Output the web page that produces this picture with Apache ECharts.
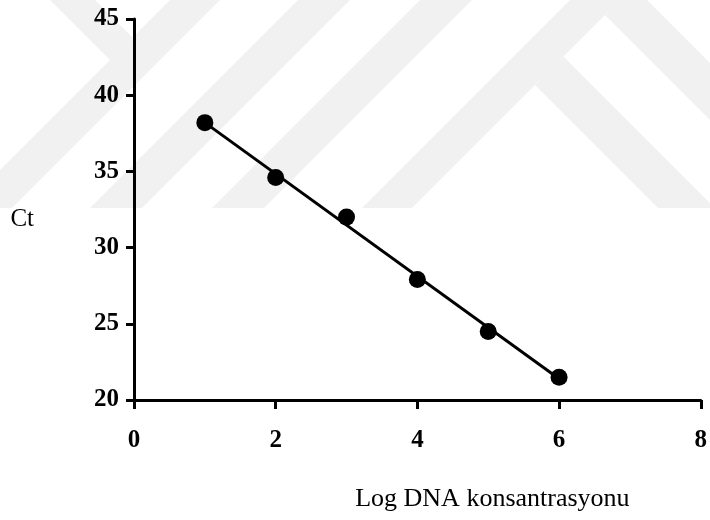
<!DOCTYPE html>
<html><head><meta charset="utf-8">
<script src="https://cdn.jsdelivr.net/npm/echarts@6/dist/echarts.min.js"></script>
<style>html,body{margin:0;padding:0;background:#fff}#c{width:710px;height:520px}</style>
</head><body><div id="c"></div>
<script>
const logConc = [1, 2, 3, 4, 5, 6];
const ctValues = [38.2, 34.6, 32.0, 27.9, 24.5, 21.5];
const fitX = [1, 6];
const fitY = [38.2, 21.4];
const xTicks = [0, 2, 4, 6, 8];
const yTicks = [20, 25, 30, 35, 40, 45];
const xName = 'Log DNA konsantrasyonu';
const yName = 'Ct';

const serif = "'Liberation Serif', 'Times New Roman', serif";
const wm = '#f1f1f1';
const bands = [
  [[170,0],[220,0],[12,208],[0,208],[0,170]],
  [[50,0],[95,0],[132.5,37.5],[110,60]],
  [[298,0],[350,0],[142,208],[90,208]],
  [[420,0],[472,0],[264,208],[212,208]],
  [[570,0],[620,0],[412,208],[362,208]],
  [[535,85],[563.5,56.5],[710,203],[710,208],[658,208]],
  [[605,15],[620,0],[647,0],[710,63],[710,120]]
];

const chart = echarts.init(document.getElementById('c'), null, {renderer: 'canvas'});
chart.setOption({
  backgroundColor: '#ffffff',
  animation: false,
  graphic: bands.map(p => ({type: 'polygon', shape: {points: p}, style: {fill: wm}, silent: true, z: -100})),
  grid: {left: 134, right: 4, top: 19, bottom: 120, containLabel: false},
  xAxis: {
    type: 'value', min: xTicks[0], max: xTicks[xTicks.length - 1], interval: xTicks[1] - xTicks[0],
    name: xName, nameLocation: 'middle', nameGap: 86,
    nameTextStyle: {fontFamily: serif, fontSize: 26, color: '#000', padding: [0, 0, 0, 150]},
    axisLine: {show: true, onZero: false, lineStyle: {color: '#000', width: 3}},
    axisTick: {show: true, length: 9, lineStyle: {color: '#000', width: 3}},
    axisLabel: {fontFamily: serif, fontSize: 25, fontWeight: 'bold', color: '#000', margin: 28},
    splitLine: {show: false}
  },
  yAxis: {
    type: 'value', min: yTicks[0], max: yTicks[yTicks.length - 1], interval: yTicks[1] - yTicks[0],
    name: yName, nameLocation: 'middle', nameRotate: 0, nameGap: 100,
    nameTextStyle: {fontFamily: serif, fontSize: 25, color: '#000', verticalAlign: 'top', lineHeight: 20},
    axisLine: {show: true, onZero: false, lineStyle: {color: '#000', width: 3}},
    axisTick: {show: true, length: 8, lineStyle: {color: '#000', width: 3}},
    axisLabel: {fontFamily: serif, fontSize: 25, fontWeight: 'bold', color: '#000', margin: 15},
    splitLine: {show: false}
  },
  series: [
    {type: 'line', data: fitX.map((x, i) => [x, fitY[i]]), symbol: 'none', lineStyle: {color: '#000', width: 3}, z: 2},
    {type: 'scatter', data: logConc.map((x, i) => [x, ctValues[i]]), symbol: 'circle', symbolSize: 17, itemStyle: {color: '#000', opacity: 1}, z: 3}
  ]
});
</script></body></html>
